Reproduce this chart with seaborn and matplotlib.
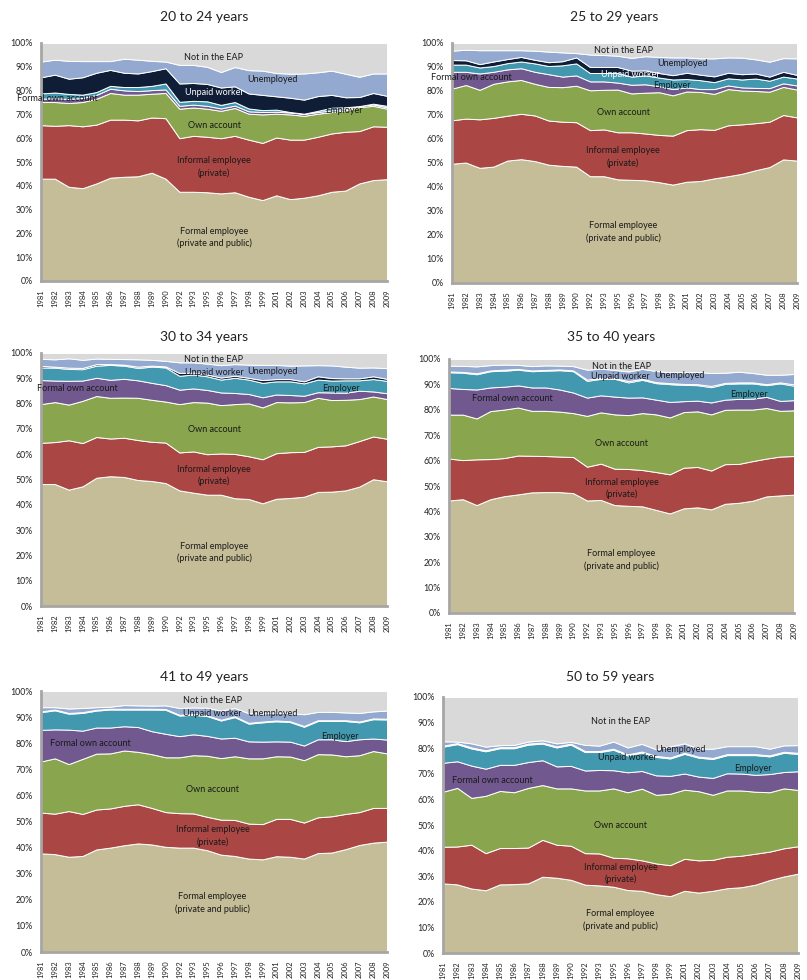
import numpy as np
import matplotlib
matplotlib.use("Agg")
import matplotlib.pyplot as plt
import seaborn as sns

years = ["1981", "1982", "1983", "1984", "1985", "1986", "1987", "1988", "1989", "1990",
         "1992", "1993", "1995", "1996", "1997", "1998", "1999", "2001", "2002", "2003",
         "2004", "2005", "2006", "2007", "2008", "2009"]

layers = ["Formal employee", "Informal employee", "Own account", "Formal own account",
          "Employer", "Unpaid worker", "Unemployed", "Not in the EAP"]

# cumulative top of each layer (%); "Not in the EAP" fills to 100
tops_20_24 = {
    "Formal employee": [43, 43, 39.6, 39, 41, 43.4, 43.8, 44, 45.5, 43, 37.5, 37.5, 37.3, 36.8, 37.3, 35.4, 34, 36, 34.4, 35, 36, 37.5, 38, 41, 42.4, 42.8],
    "Informal employee": [65.5, 65.2, 65.5, 65, 65.7, 67.8, 67.8, 67.5, 68.7, 68.4, 60, 61, 60.6, 60, 61, 59.4, 58, 60.3, 59.4, 59.4, 60.6, 62, 62.7, 63, 65, 64.8],
    "Own account": [75.2, 75.2, 74.8, 75.2, 76.6, 79, 78.3, 78.3, 78.7, 79, 72.4, 72.9, 72.4, 71.5, 72.7, 70.3, 70, 70.3, 70, 69.4, 70.3, 71, 71.7, 73.1, 73.6, 72.4],
    "Formal own account": [76.6, 76.8, 76.5, 76.9, 78.2, 80.8, 80.1, 79.8, 80.2, 80.5, 73.6, 74.1, 73.6, 72.5, 73.7, 71.3, 71, 71.1, 70.8, 70.2, 71, 71.7, 72.3, 73.7, 74.2, 73],
    "Employer": [78.8, 79.2, 78.6, 78.3, 79.4, 82, 81.5, 81.5, 82, 83, 75.3, 75.7, 75.5, 74, 75.2, 72.5, 71.8, 72, 71, 70.3, 71.5, 72.8, 73, 73.5, 74.5, 73.6],
    "Unpaid worker": [85.6, 86.7, 85, 85.6, 87.5, 88.7, 87.5, 87.2, 88.2, 89.4, 83, 83.2, 82.8, 81.3, 81.8, 78.8, 78.2, 77.6, 77, 76.2, 77.7, 78.2, 77.2, 77.3, 79, 77.8],
    "Unemployed": [92.2, 93, 92.5, 92.4, 92.4, 92.4, 93.4, 93, 92.5, 92.2, 90.8, 90.8, 90, 87.8, 89.9, 88.6, 88.4, 87.4, 87.1, 87.2, 87.7, 88.4, 87.1, 85.8, 87.2, 87.2],
}

tops_25_29 = {
    "Formal employee": [49.7, 50.2, 48, 48.5, 51, 51.6, 50.8, 49.3, 48.8, 48.5, 44.5, 44.5, 43.2, 43, 42.8, 42, 41, 42.2, 42.5, 43.6, 44.5, 45.5, 47, 48.3, 51.5, 51],
    "Informal employee": [67.8, 68.5, 68.2, 68.8, 69.7, 70.5, 69.8, 67.7, 67.2, 67, 63.7, 64, 62.8, 62.8, 62.3, 61.7, 61.4, 63.7, 64.1, 63.8, 65.7, 66.1, 66.6, 67.2, 70, 69],
    "Own account": [81, 82.5, 80.5, 83, 84, 84.6, 83, 81.7, 81.6, 82.2, 80.3, 80.5, 80.6, 79, 79.3, 79.5, 78.2, 79.8, 79.6, 78.8, 80.8, 80.2, 80, 79.7, 81.7, 80.6],
    "Formal own account": [88, 88, 87.3, 88, 89, 89.5, 88, 87, 86, 86.5, 84, 84, 83.5, 82.6, 82.8, 82, 80.8, 81.5, 80.8, 80.8, 82.3, 81.5, 81.3, 81.2, 83.2, 82.3],
    "Employer": [91, 91, 89.8, 90.4, 91.6, 92.3, 91.5, 90.4, 90.7, 91.5, 87.5, 87.5, 87.5, 86, 86.5, 85.6, 84.8, 85, 84.5, 83.7, 85.3, 84.8, 85.2, 84.3, 86, 85.2],
    "Unpaid worker": [92.9, 92.8, 91.2, 92.3, 93.3, 94.2, 93, 92, 92.4, 94, 90, 90, 90, 88.5, 88.6, 87.5, 86.6, 87.6, 86.8, 86.1, 87.6, 87, 87.3, 86, 88, 86.7],
    "Unemployed": [96.8, 97.2, 97, 97, 97, 97, 96.8, 96.4, 96.1, 95.8, 95.2, 95, 94.7, 93.8, 94.5, 94.2, 94, 94, 93.6, 93.6, 94, 93.9, 93.2, 92.2, 93.7, 93.6],
}

tops_30_34 = {
    "Formal employee": [48.2, 48.2, 46, 47.3, 50.7, 51.3, 51, 49.8, 49.4, 48.6, 45.7, 44.8, 44, 44, 42.6, 42.3, 40.6, 42.4, 42.7, 43.2, 45.1, 45.2, 45.7, 47.2, 50.1, 49.3],
    "Informal employee": [64.5, 64.8, 65.5, 64.4, 66.8, 66.2, 66.5, 65.6, 64.9, 64.6, 60.7, 61.1, 60, 60.3, 60.1, 59.2, 58, 60.4, 60.8, 60.9, 62.9, 63.1, 63.5, 65.2, 67, 66.1],
    "Own account": [79.8, 80.6, 79.6, 81.1, 83, 82.3, 82.4, 82.3, 81.5, 80.8, 79.8, 80.6, 80.4, 79.4, 79.8, 80.1, 78.5, 80.6, 80.5, 80.6, 82.3, 81.4, 81.5, 81.8, 82.8, 81.8],
    "Formal own account": [89.3, 89.1, 89, 89.1, 90.2, 89.4, 89.8, 89.2, 88.2, 87.3, 85.5, 86, 85.4, 84.4, 84.2, 83.8, 82.5, 83.6, 83.4, 83.1, 84.5, 84.4, 84.3, 85.1, 84.8, 84.1],
    "Employer": [94.3, 94.2, 93.7, 93.6, 95, 95.3, 95, 94.1, 94.6, 94.3, 91, 91.5, 90.8, 89.5, 90.2, 89.5, 88.2, 88.8, 88.8, 88, 89.5, 89.1, 89.2, 89.2, 89.7, 89],
    "Unpaid worker": [94.9, 94.6, 94.2, 94.1, 95.6, 95.6, 95.4, 94.6, 95, 94.7, 92.1, 92.2, 91.5, 90.3, 91, 90.2, 89.3, 89.7, 89.7, 88.8, 90.8, 90.1, 90, 90, 90.8, 89.8],
    "Unemployed": [97.7, 97.5, 97.9, 97.3, 97.8, 97.7, 97.6, 97.5, 97.3, 96.9, 96.3, 96.3, 95.8, 95.2, 95.6, 95.4, 95.3, 95.3, 95, 95.1, 95.2, 95.1, 94.6, 94.2, 94.3, 94],
}

tops_35_40 = {
    "Formal employee": [44.3, 44.8, 42.5, 44.8, 46, 46.7, 47.5, 47.6, 47.6, 47.2, 44.3, 44.5, 42.5, 42.2, 42, 40.6, 39.2, 41.2, 41.6, 40.8, 43, 43.4, 44.2, 45.9, 46.3, 46.6],
    "Informal employee": [60.8, 60.2, 60.5, 60.6, 61, 62, 61.9, 61.8, 61.6, 61.4, 57.6, 58.8, 56.8, 56.7, 56.3, 55.5, 54.6, 57.2, 57.5, 56.1, 58.6, 58.7, 59.8, 60.8, 61.6, 61.8],
    "Own account": [78.1, 78.1, 76.6, 79.5, 80.1, 80.9, 79.6, 79.6, 79.3, 78.7, 77.6, 79, 78.2, 77.9, 78.7, 78.2, 77, 79.1, 79.4, 78.2, 80, 80.1, 80.1, 80.7, 79.6, 79.8],
    "Formal own account": [88.6, 88.2, 88, 88.8, 89.1, 89.6, 88.8, 88.8, 88, 86.8, 84.8, 85.7, 85.2, 84.8, 84.9, 84, 83.1, 83.4, 83.6, 82.9, 84, 84.3, 84.4, 85.1, 83.5, 83.8],
    "Employer": [94.8, 94.6, 94, 95.2, 95.4, 95.8, 95.2, 95.4, 95.6, 95.2, 91.4, 92.2, 92.2, 90.8, 91.8, 90.5, 90.1, 89.8, 89.7, 88.9, 90.2, 90.4, 90.4, 89.7, 90.4, 89.5],
    "Unpaid worker": [95.1, 94.9, 94.4, 95.5, 95.8, 96.1, 95.5, 95.7, 95.9, 95.5, 91.9, 92.5, 92.5, 91.3, 92.2, 90.9, 90.5, 90.2, 90.1, 89.4, 90.6, 90.8, 90.8, 90.1, 90.8, 90],
    "Unemployed": [97.4, 97.3, 97.1, 97.6, 97.8, 97.7, 97.2, 97.5, 97.4, 97.2, 95.8, 96.2, 95.7, 95.1, 96.1, 95.3, 94.8, 94.8, 94.9, 94.5, 94.6, 95, 94.5, 93.8, 93.8, 94.1],
}

tops_41_49 = {
    "Formal employee": [37.8, 37.5, 36.5, 36.8, 39.3, 40, 40.9, 41.6, 41.2, 40.3, 40, 40, 39, 37.3, 36.8, 35.8, 35.5, 36.7, 36.5, 35.8, 37.9, 38.1, 39.4, 41, 41.9, 42.3],
    "Informal employee": [53.4, 53, 54, 52.9, 54.6, 55, 56, 56.6, 55.2, 53.6, 53.2, 53.1, 51.8, 50.7, 50.6, 49.2, 49, 51, 51, 49.6, 51.6, 52, 52.9, 53.6, 55.2, 55.2],
    "Own account": [73, 74.2, 72, 74, 76, 76.1, 77.2, 76.7, 75.8, 74.6, 74.6, 75.4, 75.2, 74.3, 75, 74.2, 74.2, 75, 74.9, 73.5, 75.8, 75.7, 75, 75.4, 77, 76.1],
    "Formal own account": [85.1, 85.3, 85.2, 84.8, 86, 86, 86.5, 86.2, 84.6, 83.6, 82.7, 83.4, 82.8, 81.8, 82.1, 80.7, 80.6, 80.7, 80.6, 79.1, 81.5, 81.5, 80.8, 81.5, 81.8, 81.4],
    "Employer": [91.9, 92.6, 91.3, 91.6, 92.5, 92.9, 92.9, 92.9, 92.9, 92.8, 90.6, 90.9, 90.4, 88.7, 90, 87.5, 88, 88.4, 88.1, 86.3, 88.5, 88.5, 88.5, 88, 89.2, 89.1],
    "Unpaid worker": [92.2, 92.9, 91.6, 91.9, 92.8, 93.2, 93.2, 93.2, 93.2, 93.1, 90.9, 91.2, 90.7, 89, 90.3, 87.8, 88.3, 88.7, 88.4, 86.6, 88.8, 88.8, 88.8, 88.3, 89.5, 89.4],
    "Unemployed": [93.8, 93.8, 93.3, 93.5, 93.8, 94, 94.6, 94.5, 94.4, 94.5, 93.5, 93.7, 93.6, 92.5, 93.5, 91.5, 91.4, 91.7, 91.5, 91.1, 92, 92, 91.8, 91.6, 92.2, 92.5],
}

tops_50_59 = {
    "Formal employee": [27.2, 26.8, 25.2, 24.5, 26.8, 26.9, 27.2, 29.8, 29.4, 28.6, 26.7, 26.4, 25.9, 24.6, 24.3, 23, 22.2, 24.3, 23.6, 24.3, 25.3, 25.7, 26.7, 28.5, 29.9, 31],
    "Informal employee": [41.5, 41.6, 42.3, 39, 41, 41, 41.2, 44.2, 42.3, 41.9, 39, 38.9, 37.2, 37, 36.2, 35, 34.3, 36.8, 36.2, 36.4, 37.6, 38, 38.8, 39.6, 40.9, 41.7],
    "Own account": [63, 64.5, 60.6, 61.4, 63.3, 62.8, 64.5, 65.6, 64.3, 64.3, 63.5, 63.5, 64.3, 62.8, 64.2, 61.8, 62.2, 63.8, 63.2, 61.8, 63.5, 63.5, 63, 62.8, 64.3, 63.7],
    "Formal own account": [74.3, 74.9, 73.2, 72, 73.5, 73.5, 74.6, 75.3, 72.9, 73.1, 71.3, 71.5, 71.4, 70.6, 71.1, 69.4, 69.2, 70.1, 68.9, 68.4, 70.2, 70.1, 69.6, 69.9, 70.7, 71],
    "Employer": [80.6, 81.6, 79.9, 78.8, 80, 80, 81.4, 81.8, 80.3, 81.4, 78.5, 78.5, 79.4, 77.2, 78.3, 76.6, 76, 77.8, 76.3, 75.8, 77.3, 77.3, 77.3, 76.8, 78.2, 77.8],
    "Unpaid worker": [81, 82, 80.3, 79.2, 80.4, 80.4, 81.8, 82.2, 80.7, 81.8, 78.9, 78.9, 79.8, 77.6, 78.7, 77, 76.4, 78.2, 76.7, 76.2, 77.7, 77.7, 77.7, 77.2, 78.6, 78.2],
    "Unemployed": [82.7, 82.6, 81.9, 80.6, 81.2, 81.3, 82.6, 83.1, 81.9, 82.5, 81.3, 81, 82.6, 80.3, 81.7, 79.6, 80.7, 81.9, 79.9, 79.8, 80.8, 80.8, 80.8, 79.8, 81.1, 81.2],
}

colors = ["#C4BD97", "#AA4643", "#89A54E", "#71588F", "#4198AF", "#0F1D36", "#93A9CF", "#D9D9D9"]

sns.set_theme(style="white")
plt.rcParams["font.family"] = ["Lato", "DejaVu Sans"]

W, H = 807, 980
fig = plt.figure(figsize=(W / 100, H / 100), dpi=100)


def add_panel(tops, title, box, title_y, label_pos, unpaid_color=None, unpaid_text="white"):
    left, top, right, bottom = box
    ax = fig.add_axes([left / W, 1 - bottom / H, (right - left) / W, (bottom - top) / H])
    cum = np.array([tops[k] for k in layers[:-1]] + [[100] * len(years)])
    shares = np.diff(np.vstack([np.zeros(len(years)), cum]), axis=0)
    cols = list(colors)
    if unpaid_color:
        cols[5] = unpaid_color
    x = np.arange(len(years))
    ax.stackplot(x, shares, colors=cols, edgecolor="white", linewidth=0.7)
    ax.set_xlim(0, len(years) - 1)
    ax.set_ylim(0, 100)
    ax.set_yticks(range(0, 101, 10))
    ax.set_yticklabels([f"{v}%" for v in range(0, 101, 10)], fontsize=6.3, color="#222222")
    ax.set_xticks(x)
    ax.set_xticklabels(years, rotation=90, fontsize=5.5, color="#222222")
    ax.tick_params(axis="both", length=0, pad=6)
    sns.despine(ax=ax)
    for s in ["left", "bottom"]:
        ax.spines[s].set_color("#A6A6A6")
        ax.spines[s].set_linewidth(2)
    fig.text(((left + right) / 2 - 10) / W, 1 - title_y / H, title, ha="center", va="center",
             fontsize=10, color="#222222")
    texts = ["Not in the EAP", "Unemployed", "Unpaid worker", "Formal own account", "Employer",
             "Own account", "Informal employee\n(private)", "Formal employee\n(private and public)"]
    for t, (px, py) in zip(texts, label_pos):
        c = unpaid_text if t == "Unpaid worker" else "#1a1a1a"
        ax.text(px, py, t, ha="center", va="center", fontsize=6.5, color=c, linespacing=1.4)
    return ax


add_panel(tops_20_24, "20 to 24 years", (41, 43, 387, 281), 17,
          [(12.5, 94), (16.7, 84.6), (12.5, 79.4), (1.2, 76.6), (21.9, 71.7),
           (12.5, 65.5), (12.5, 48), (12.5, 18.3)])
add_panel(tops_25_29, "25 to 29 years", (452, 43, 797, 283), 17,
          [(12.4, 96.7), (16.7, 91.4), (12.9, 87), (1.4, 85.6), (15.9, 82.4),
           (12.4, 71), (12.4, 52.5), (12.4, 21.2)])
add_panel(tops_30_34, "30 to 34 years", (41, 353, 387, 606), 337,
          [(12.5, 97.4), (16.7, 92.7), (12.5, 92.1), (2.6, 85.8), (21.7, 85.8),
           (12.5, 69.7), (12.5, 51.6), (12.5, 21.2)], unpaid_text="#1a1a1a")
add_panel(tops_35_40, "35 to 40 years", (449, 359, 794, 613), 337,
          [(12.5, 97.2), (16.7, 93.4), (12.4, 93), (4.6, 84.5), (21.7, 86.2),
           (12.5, 66.8), (12.5, 49), (12.5, 20.8)], unpaid_text="#1a1a1a")
add_panel(tops_41_49, "41 to 49 years", (41, 691, 387, 952), 677,
          [(12.4, 96.2), (16.7, 91.4), (12.4, 91.4), (3.6, 79.9), (21.6, 82.7),
           (12.4, 62.3), (12.4, 44.5), (12.4, 18.8)], unpaid_text="#1a1a1a")
add_panel(tops_50_59, "50 to 59 years", (443, 697, 798, 953), 677,
          [(12.5, 90.6), (16.7, 79.5), (13, 76.3), (3.5, 67.5), (21.8, 72.1),
           (12.5, 50), (12.5, 31), (12.5, 12.8)], unpaid_color="#F0913A", unpaid_text="#1a1a1a")

fig.savefig("out.png", dpi=100)
